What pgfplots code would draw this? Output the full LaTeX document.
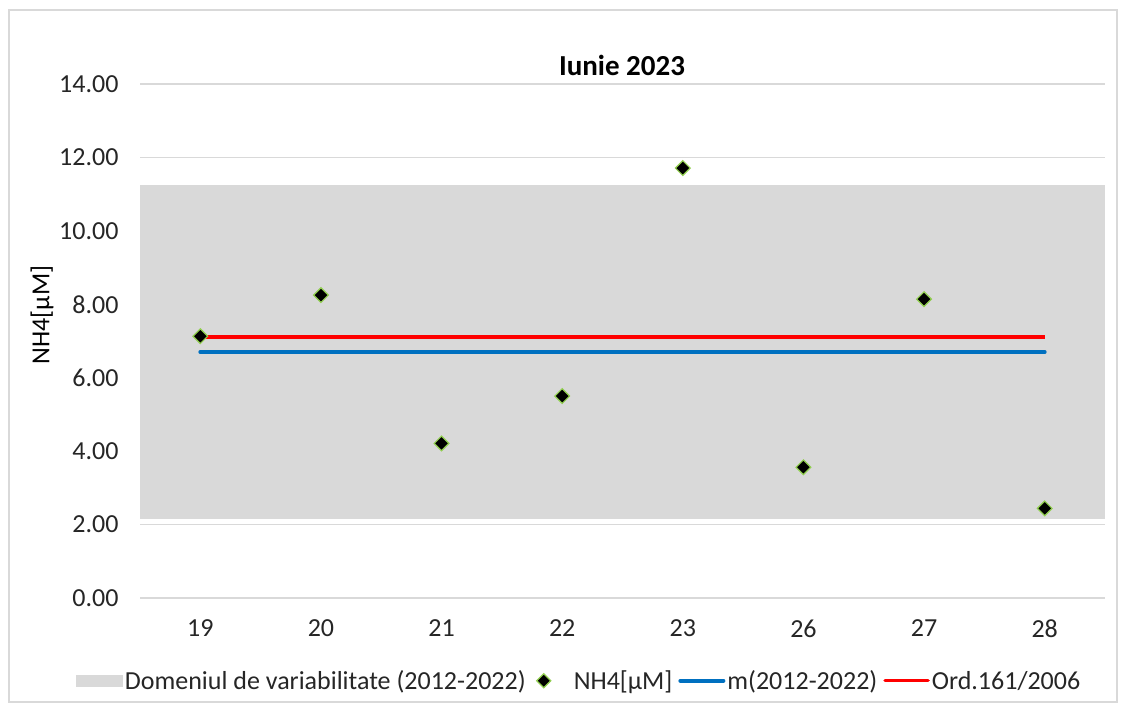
\documentclass[border=0pt]{standalone}
\usepackage{fontspec}
\setmainfont{Carlito}
\usepackage{pgfplots}
\pgfplotsset{compat=1.18}
\definecolor{bandgray}{HTML}{D9D9D9}
\definecolor{gridgray}{HTML}{D9D9D9}
\definecolor{xlblue}{HTML}{0070C0}
\definecolor{xlred}{HTML}{FF0000}
\definecolor{xlgreen}{HTML}{92D050}
\definecolor{txt}{HTML}{262626}
\begin{document}
\begin{tikzpicture}[x=1pt,y=1pt]
\path[fill=white] (0,0) rectangle (1138,711);
\draw[gridgray, line width=1.2pt] (9,9) rectangle (1117,701);
\begin{axis}[
  at={(140pt,113pt)}, anchor=south west,
  scale only axis, width=965pt, height=514pt,
  xmin=-0.5, xmax=7.5, ymin=0, ymax=14,
  xtick={0,1,2,3,4,5,6,7},
  xticklabels={19,20,21,22,23,26,27,28},
  ytick={0,2,4,6,8,10,12,14},
  /pgf/number format/fixed,
  /pgf/number format/fixed zerofill,
  /pgf/number format/precision=2,
  /pgf/number format/assume math mode=true,
  ticklabel style={font=\fontsize{26}{30}\selectfont, text=txt},
  yticklabel style={xshift=-18pt},
  xticklabel style={yshift=-18pt},
  major tick length=0pt,
  axis line style={draw=none},
  ymajorgrids, grid style={gridgray, line width=1.2pt},
  legend style={at={(0.455,-0.161)}, anchor=center, draw=none, fill=none,
    legend columns=4, font=\fontsize{26}{30}\selectfont, text=txt,
    nodes={inner sep=2pt},
    /tikz/every even column/.append style={column sep=4pt}},
  legend cell align=left,
]
\addplot[fill=bandgray, draw=none, area legend,
  legend image code/.code={\fill[bandgray] (-8pt,-6pt) rectangle (39pt,6pt);}]
  coordinates {(-0.5,2.15) (7.5,2.15) (7.5,11.25) (-0.5,11.25)} -- cycle;
\addlegendentry{Domeniul de variabilitate (2012-2022)}
\addplot[only marks, mark=square*, mark size=5.2pt,
  mark options={rotate=45, fill=black, draw=xlgreen, line width=1.2pt},
  legend image code/.code={\path[draw=none, fill=none] (0pt,0pt) -- (40pt,0pt);
    \draw[fill=black, draw=xlgreen, line width=1.2pt, rotate around={45:(12pt,0pt)}] (7pt,-5pt) rectangle (17pt,5pt);}]
  coordinates {(0,7.13) (1,8.25) (2,4.21) (3,5.50) (4,11.71) (5,3.56) (6,8.14) (7,2.44)};
\addlegendentry{NH4[µM]}
\addplot[xlblue, line width=4pt, line cap=round,
  legend image code/.code={\draw[xlblue, line width=4pt, line cap=round] (-2pt,0pt) -- (41pt,0pt);}]
  coordinates {(0,6.70) (7,6.70)};
\addlegendentry{m(2012-2022)}
\addplot[xlred, line width=3.5pt,
  legend image code/.code={\draw[xlred, line width=3.5pt, line cap=round] (-2pt,0pt) -- (41pt,0pt);}]
  coordinates {(0,7.11) (7,7.11)};
\addlegendentry{Ord.161/2006}
\end{axis}
\node[font=\fontsize{29}{33}\selectfont\bfseries, text=black] at (622,646) {Iunie 2023};
\node[font=\fontsize{26}{30}\selectfont, text=black, rotate=90] at (42,396) {NH4[µM]};
\end{tikzpicture}
\end{document}
